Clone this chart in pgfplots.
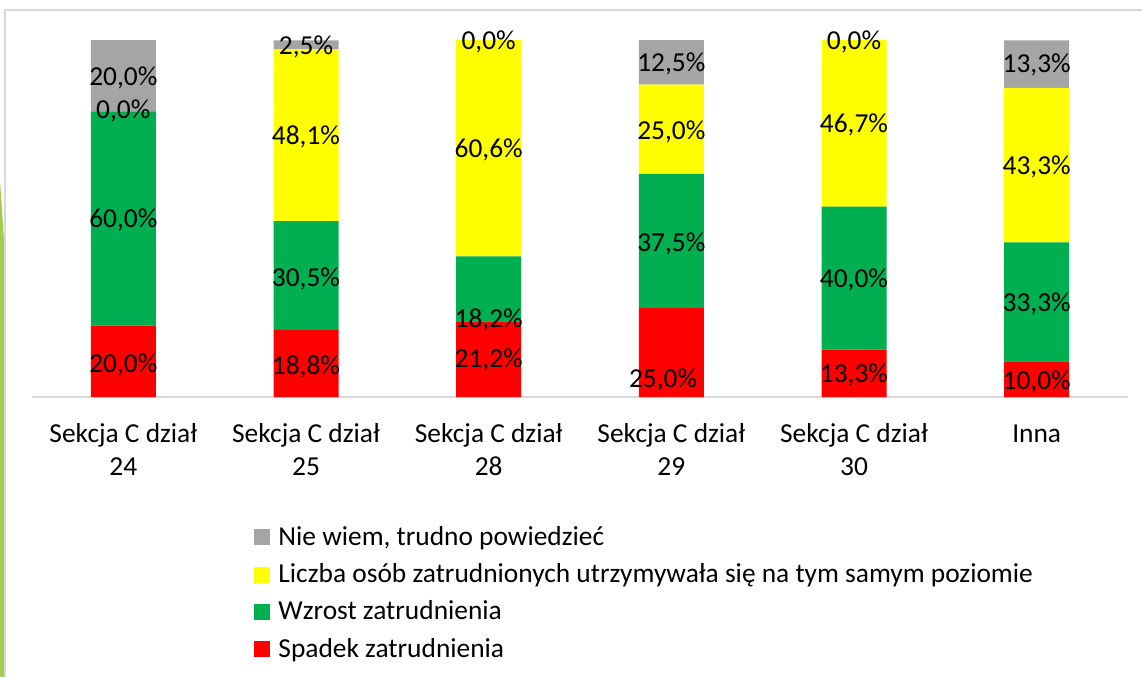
\documentclass[border=0pt]{standalone}
\usepackage{pgfplots}
\pgfplotsset{compat=1.18}
\usepackage{fontspec}
\setmainfont{Carlito}
\definecolor{cgray}{HTML}{A5A5A5}
\definecolor{cyellow}{HTML}{FFFF00}
\definecolor{cgreen}{HTML}{00B050}
\definecolor{cred}{HTML}{FF0000}
\definecolor{lgray}{HTML}{D9D9D9}
\definecolor{stripe}{HTML}{A4CC4C}
\newcommand{\cf}{\fontsize{13.7bp}{17bp}\selectfont}
\begin{document}
\cf
\begin{tikzpicture}
\useasboundingbox (0,0) rectangle (571bp,-338.5bp);
\fill[stripe] (0bp,-90bp) -- (2bp,-120bp) -- (2bp,-338.5bp) -- (0bp,-338.5bp) -- cycle;
\draw[lgray, line width=1bp] (2.5bp,-338.5bp) -- (2.5bp,-5bp) -- (571bp,-5bp);
\begin{axis}[
  at={(16bp,-198.5bp)}, anchor=south west,
  scale only axis, width=548bp, height=178.5bp,
  xmin=-0.5, xmax=5.5, ymin=0, ymax=100,
  ybar stacked, bar width=32.5bp,
  hide y axis,
  axis x line*=bottom,
  x axis line style={-, draw=lgray, line width=1bp},
  xtick={0,1,2,3,4,5},
  xticklabels={{Sekcja C dział\\24},{Sekcja C dział\\25},{Sekcja C dział\\28},{Sekcja C dział\\29},{Sekcja C dział\\30},{Inna\vphantom{dział}\\\vphantom{24}}},
  xticklabel style={align=center, font=\fontsize{13.7bp}{16.5bp}\selectfont, inner sep=0pt, anchor=north, yshift=-13bp},
  major tick length=0pt,
  xtick style={draw=none},
  reverse legend,
  legend cell align=left,
  legend style={at={(0.2026,-0.361)}, anchor=north west, draw=none, fill=none,
    font=\cf, inner sep=0pt, row sep=6.15bp, column sep=4bp,
    nodes={inner sep=0pt, text height=9.5bp, text depth=3bp}},
  legend image code/.code={\fill[#1,draw=none] (0bp,-3.25bp) rectangle (8bp,4.75bp);},
]
\addplot[fill=cred, draw=none] coordinates {(0,20.0) (1,18.8) (2,21.2) (3,25.0) (4,13.3) (5,10.0)};
\addplot[fill=cgreen, draw=none] coordinates {(0,60.0) (1,30.5) (2,18.2) (3,37.5) (4,40.0) (5,33.3)};
\addplot[fill=cyellow, draw=none] coordinates {(0,0.0) (1,48.1) (2,60.6) (3,25.0) (4,46.7) (5,43.3)};
\addplot[fill=cgray, draw=none] coordinates {(0,20.0) (1,2.5) (2,0.0) (3,12.5) (4,0.0) (5,13.3)};
\legend{Spadek zatrudnienia, Wzrost zatrudnienia, Liczba osób zatrudnionych utrzymywała się na tym samym poziomie, {Nie wiem, trudno powiedzieć}}
\end{axis}
\begin{axis}[
  at={(16bp,-198.5bp)}, anchor=south west,
  scale only axis, width=548bp, height=178.5bp,
  xmin=-0.5, xmax=5.5, ymin=0, ymax=100,
  hide axis, clip=false,
]
\addplot[draw=none, mark=none, nodes near coords, point meta=explicit symbolic,
  nodes near coords align={center},
  every node near coord/.append style={font=\cf, inner sep=0pt, text=black}]
coordinates {
(0,89.4) [20,0\%] (0,80.1) [0,0\%] (0,49.6) [60,0\%] (0,9.0) [20,0\%]
(1,98.1) [2,5\%] (1,72.9) [48,1\%] (1,33.2) [30,5\%] (1,8.5) [18,8\%]
(2,99.6) [0,0\%] (2,69.2) [60,6\%] (2,21.6) [18,2\%] (2,10.4) [21,2\%]
(3,93.4) [12,5\%] (3,74.3) [25,0\%] (3,43.0) [37,5\%] (2.955,4.8) [25,0\%]
(4,99.6) [0,0\%] (4,76.2) [46,7\%] (4,32.8) [40,0\%] (4,6.2) [13,3\%]
(5,93.0) [13,3\%] (5,64.5) [43,3\%] (5,26.2) [33,3\%] (5,4.3) [10,0\%]
};
\end{axis}
\end{tikzpicture}
\end{document}
